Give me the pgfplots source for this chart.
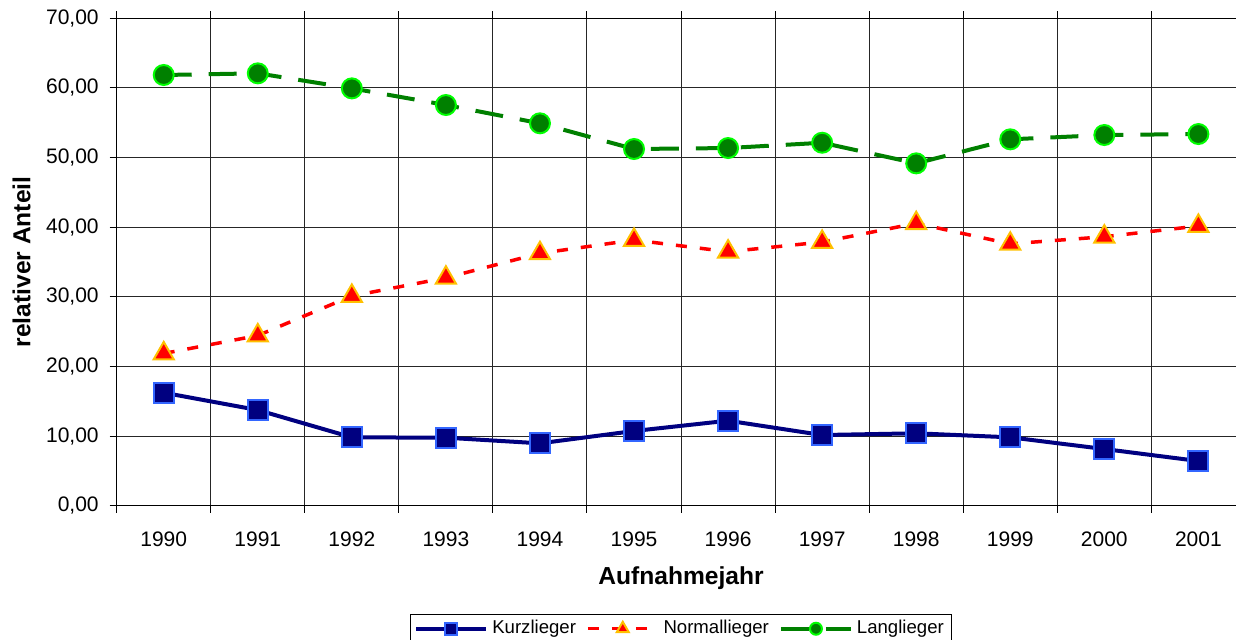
\documentclass[border=0pt]{standalone}
\usepackage{pgfplots}
\pgfplotsset{compat=1.18}
\usepackage{fontspec}
\setmainfont{Liberation Sans}
\definecolor{kurz}{RGB}{0,0,128}
\definecolor{kurzedge}{RGB}{51,102,255}
\definecolor{normedge}{RGB}{255,192,0}
\definecolor{lang}{RGB}{0,128,0}
\definecolor{langedge}{RGB}{0,255,0}
\begin{document}
\begin{tikzpicture}
\begin{axis}[
  at={(0,0)}, anchor=south west,
  width=564.35pt, height=243.7pt, scale only axis,
  xmin=-0.5, xmax=11.5, ymin=0, ymax=70,
  xtick={0,1,2,3,4,5,6,7,8,9,10,11},
  xticklabels={1990,1991,1992,1993,1994,1995,1996,1997,1998,1999,2000,2001},
  minor xtick={-0.5,0.5,1.5,2.5,3.5,4.5,5.5,6.5,7.5,8.5,9.5,10.5,11.5},
  ytick={0,10,20,30,40,50,60,70},
  xminorgrids=true, xmajorgrids=false, ymajorgrids=true,
  grid style={black!85, line width=0.5pt},
  minor grid style={black!85, line width=0.5pt},
  tick align=outside, major tick length=3.5pt, minor tick length=3.5pt,
  major x tick style={draw=none},
  tick style={black, line width=0.5pt},
  axis line style={black, line width=0.6pt},
  every tick label/.append style={font=\fontsize{10.5}{12}\selectfont},
  /pgf/number format/.cd, fixed, fixed zerofill, precision=2, use comma, assume math mode=true,
  /pgfplots/.cd,
  xticklabel shift=6.25pt,
  yticklabel shift=2pt,
  xlabel={Aufnahmejahr},
  ylabel={relativer Anteil},
  xlabel style={font=\fontsize{12.3}{14}\selectfont\bfseries, at={(axis description cs:0.5,-0.1477)}, anchor=center},
  ylabel style={font=\fontsize{12.3}{14}\selectfont\bfseries, at={(axis description cs:-0.0842,0.5)}, anchor=center, rotate=0},
  legend columns=3,
  legend style={at={(axis description cs:0.5,-0.2222)}, anchor=north, draw=black, line width=0.5pt,
    font=\fontsize{9.3}{11}\selectfont, inner xsep=2pt, inner ysep=1pt,
    nodes={inner ysep=2pt},
    /tikz/every even column/.append style={column sep=3pt}},
  legend image code/.code={\draw[mark repeat=2,mark phase=2,#1,every mark/.append style={scale=0.6}] plot coordinates {(0pt,0pt) (17.5pt,0pt) (35pt,0pt)};},
]
\addplot[kurz, line width=2pt, mark=square*, mark size=5pt,
  mark options={solid, fill=kurz, draw=kurzedge, line width=1pt}]
  coordinates {(0,16.23) (1,13.74) (2,9.82) (3,9.77) (4,8.96) (5,10.73) (6,12.21) (7,10.15) (8,10.40) (9,9.82) (10,8.14) (11,6.42)};
\addlegendentry{Kurzlieger}
\addplot[red, line width=1.75pt, dash pattern=on 5.5pt off 6.5pt, mark=triangle*, mark size=5.8pt,
  mark options={solid, fill=red, draw=normedge, line width=1pt}]
  coordinates {(0,21.86) (1,24.44) (2,30.12) (3,32.73) (4,36.25) (5,38.16) (6,36.48) (7,37.87) (8,40.56) (9,37.61) (10,38.63) (11,40.17)};
\addlegendentry{Normallieger}
\addplot[lang, line width=2pt, dash pattern=on 14pt off 8.5pt, mark=*, mark size=5pt,
  mark options={solid, fill=lang, draw=langedge, line width=1pt}]
  coordinates {(0,61.86) (1,62.10) (2,59.94) (3,57.55) (4,54.92) (5,51.23) (6,51.37) (7,52.13) (8,49.17) (9,52.62) (10,53.24) (11,53.38)};
\addlegendentry{Langlieger}
\end{axis}
\pgfresetboundingbox
\path[use as bounding box] (-58.35pt,-66.65pt) rectangle (559.65pt,252.85pt);
\end{tikzpicture}
\end{document}
